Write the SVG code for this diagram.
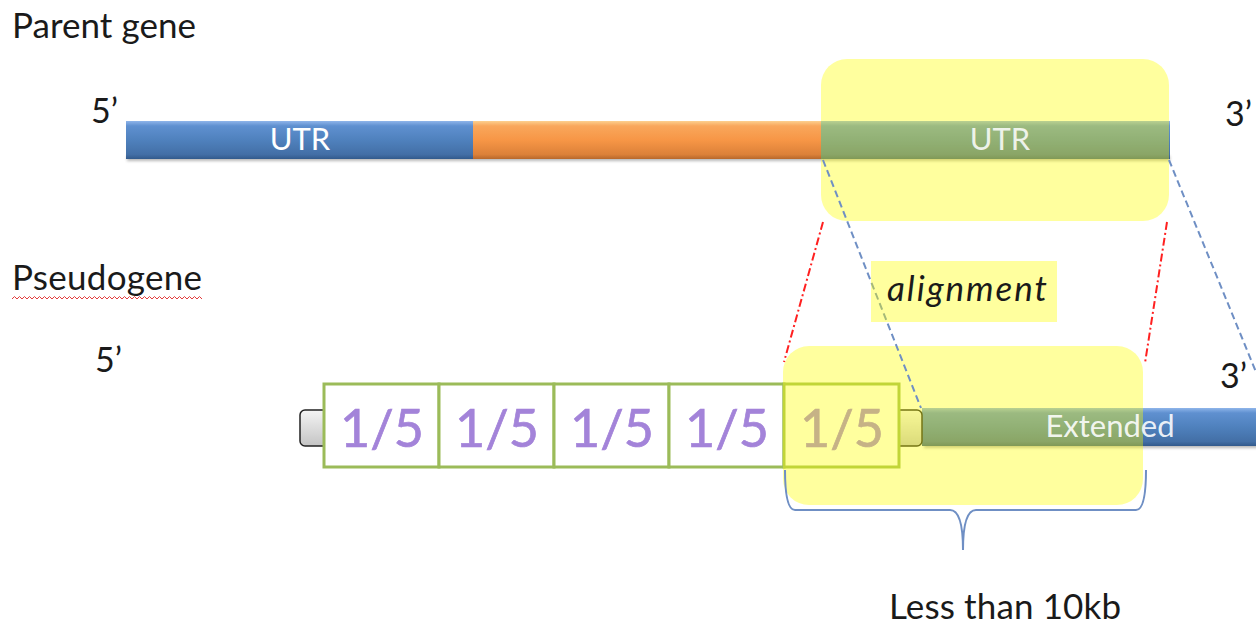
<svg xmlns="http://www.w3.org/2000/svg" width="1256" height="625" viewBox="0 0 1256 625">
<defs>
<linearGradient id="gBlue2" x1="0" y1="0" x2="0" y2="1">
<stop offset="0" stop-color="#8fb5ea"/><stop offset="0.13" stop-color="#5f90d0"/><stop offset="0.5" stop-color="#4f81bd"/><stop offset="0.88" stop-color="#436fa6"/><stop offset="1" stop-color="#325a8c"/>
</linearGradient>
<linearGradient id="gOrange" x1="0" y1="0" x2="0" y2="1">
<stop offset="0" stop-color="#fdd08f"/><stop offset="0.13" stop-color="#f9a75c"/><stop offset="0.5" stop-color="#f79646"/><stop offset="0.88" stop-color="#dc8139"/><stop offset="1" stop-color="#b8682b"/>
</linearGradient>
<linearGradient id="gCap" x1="0" y1="0" x2="0" y2="1">
<stop offset="0" stop-color="#f4f4f4"/><stop offset="1" stop-color="#c4c4c4"/>
</linearGradient>
<filter id="shadow" x="-5%" y="-50%" width="110%" height="200%">
<feGaussianBlur stdDeviation="1.5"/>
</filter>
<filter id="soft" x="-10%" y="-10%" width="120%" height="130%">
<feGaussianBlur stdDeviation="0.6"/>
</filter>
</defs>
<style>
.lbl{font-family:Lato,"Liberation Sans",sans-serif;fill:#1a1a1a}
.wt{font-family:Lato,"Liberation Sans",sans-serif;fill:#ffffff;text-anchor:middle}
.frac{font-family:Lato,"Liberation Sans",sans-serif;fill:#a383d9;stroke:#a383d9;stroke-width:0.7;font-size:52px;text-anchor:middle}
.box{fill:#ffffff;stroke:#9bbb59;stroke-width:3}
.cap{fill:url(#gCap);stroke:#222;stroke-width:1.5}
.hl{fill:#ffff00;fill-opacity:0.38}
.red{fill:none;stroke:#ff2020;stroke-width:2;stroke-dasharray:8 3 2 3}
.blu{fill:none;stroke:#6f8fc4;stroke-width:2;stroke-dasharray:7 4}
.sh{fill:#888;opacity:0.6}
</style>

<text class="lbl" x="12" y="38" font-size="35" textLength="184">Parent gene</text>
<text class="lbl" x="91" y="123" font-size="34">5’</text>
<text class="lbl" x="1225" y="126" font-size="34">3’</text>
<g id="parent-gene">
<rect class="sh" x="127" y="156" width="1043" height="5" filter="url(#shadow)"/>
<rect id="utr5" x="126" y="121" width="347" height="38" fill="url(#gBlue2)"/>
<rect id="cds" x="473" y="121" width="348" height="38" fill="url(#gOrange)"/>
<rect id="utr3" x="821" y="121" width="349" height="38" fill="url(#gBlue2)"/>
<text class="wt" x="300" y="150" font-size="31">UTR</text>
</g>
<g id="parent-highlight">
<rect class="hl" x="821" y="59" width="348" height="162" rx="26"/>
</g>
<text class="wt" x="1000" y="150" font-size="31" fill-opacity="0.85">UTR</text>

<text class="lbl" x="12" y="290" font-size="35" textLength="190">Pseudogene</text>
<path d="M12 299
l2.5 -2.5 l2.5 2.5 l2.5 -2.5 l2.5 2.5 l2.5 -2.5 l2.5 2.5 l2.5 -2.5 l2.5 2.5 l2.5 -2.5 l2.5 2.5
l2.5 -2.5 l2.5 2.5 l2.5 -2.5 l2.5 2.5 l2.5 -2.5 l2.5 2.5 l2.5 -2.5 l2.5 2.5 l2.5 -2.5 l2.5 2.5
l2.5 -2.5 l2.5 2.5 l2.5 -2.5 l2.5 2.5 l2.5 -2.5 l2.5 2.5 l2.5 -2.5 l2.5 2.5 l2.5 -2.5 l2.5 2.5
l2.5 -2.5 l2.5 2.5 l2.5 -2.5 l2.5 2.5 l2.5 -2.5 l2.5 2.5 l2.5 -2.5 l2.5 2.5 l2.5 -2.5 l2.5 2.5
l2.5 -2.5 l2.5 2.5 l2.5 -2.5 l2.5 2.5 l2.5 -2.5 l2.5 2.5 l2.5 -2.5 l2.5 2.5 l2.5 -2.5 l2.5 2.5
l2.5 -2.5 l2.5 2.5 l2.5 -2.5 l2.5 2.5 l2.5 -2.5 l2.5 2.5 l2.5 -2.5 l2.5 2.5 l2.5 -2.5 l2.5 2.5
l2.5 -2.5 l2.5 2.5 l2.5 -2.5 l2.5 2.5 l2.5 -2.5 l2.5 2.5 l2.5 -2.5 l2.5 2.5 l2.5 -2.5 l2.5 2.5
l2.5 -2.5 l2.5 2.5 l2.5 -2.5 l2.5 2.5 l2.5 -2.5 l2.5 2.5" fill="none" stroke="#e23b3b" stroke-width="1"/>
<text class="lbl" x="95" y="372" font-size="34">5’</text>
<text class="lbl" x="1220" y="388" font-size="34">3’</text>

<g id="pseudogene">
<rect class="sh" x="924" y="443" width="340" height="5" filter="url(#shadow)"/>
<rect id="extended-bar" x="922" y="408" width="340" height="38" fill="url(#gBlue2)"/>
<rect id="cap-left" class="cap" x="300" y="410" width="28" height="36" rx="5"/>
<rect id="cap-right" class="cap" x="895" y="410" width="27" height="36" rx="5"/>
<g id="segments">
<rect class="box" x="324" y="384" width="115" height="83"/>
<rect class="box" x="439" y="384" width="115" height="83"/>
<rect class="box" x="554" y="384" width="115" height="83"/>
<rect class="box" x="669" y="384" width="115" height="83"/>
<rect class="box" x="784" y="384" width="115" height="83"/>
<g filter="url(#soft)">
<text class="frac" x="382" y="447">1/5</text>
<text class="frac" x="497" y="447">1/5</text>
<text class="frac" x="612" y="447">1/5</text>
<text class="frac" x="727" y="447">1/5</text>
<text class="frac" x="842" y="447">1/5</text>
</g>
</g>
</g>
<g id="pseudo-highlight">
<rect class="hl" x="783" y="346" width="360" height="159" rx="26"/>
</g>
<text class="wt" x="1110" y="437" font-size="31" fill-opacity="0.9">Extended</text>

<g id="connectors">
<line class="red" x1="823" y1="222" x2="784" y2="362"/>
<line class="red" x1="1167" y1="222" x2="1145" y2="363"/>
<line class="blu" x1="823" y1="160" x2="921" y2="408"/>
<line class="blu" x1="1169" y1="160" x2="1256" y2="372"/>
<path id="brace" d="M785 470 Q785 510 795 510 L950 510 Q963 510 963 550 Q963 510 976 510 L1136 510 Q1146 510 1146 470" fill="none" stroke="#6f8fc4" stroke-width="2"/>
</g>

<g id="alignment-label">
<rect class="hl" x="871" y="261" width="186" height="61"/>
<text class="lbl" x="887" y="301" font-size="35" font-style="italic" textLength="160">alignment</text>
</g>
<text class="lbl" x="889" y="619" font-size="35" textLength="232">Less than 10kb</text>
</svg>
